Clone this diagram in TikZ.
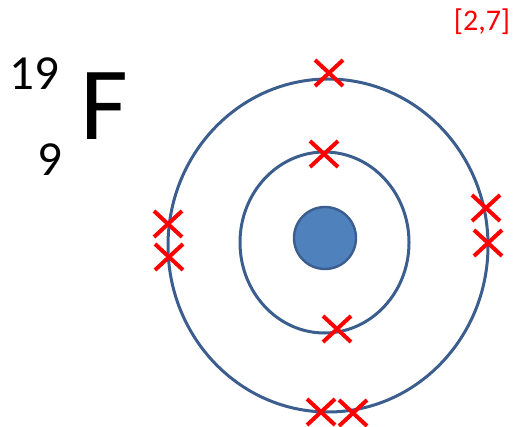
\documentclass[tikz,border=0pt]{standalone}
\usepackage{fontspec}
\setmainfont{Carlito}
\usetikzlibrary{shapes.geometric,shapes.misc}
\definecolor{shellblue}{HTML}{3B5E8E}
\definecolor{nucfill}{HTML}{4F81BD}
\begin{document}
\begin{tikzpicture}[
x=1pt, y=-1pt,
shell/.style={ellipse, draw=shellblue, line width=3pt, inner sep=0pt},
nucleus/.style={circle, draw=shellblue, fill=nucfill, line width=2.4pt, minimum size=62pt, inner sep=0pt},
electron/.style={cross out, draw=red, line width=4pt, minimum width=24pt, minimum height=22pt, inner sep=0pt},
every node/.style={inner sep=0pt}
]
\useasboundingbox (0,0) rectangle (516,427);
% symbol
\node (mass) at (34,74) {\fontsize{49}{49}\selectfont 19};
\node (atomic) at (49.5,160) {\fontsize{49}{49}\selectfont 9};
\node (symbol) at (104,106.5) {\fontsize{104}{104}\selectfont F};
\node[text=red] (config) at (482,22) {\fontsize{30}{30}\selectfont [2,7]};
% atom
\node[shell, minimum width=320pt, minimum height=333pt] (outer) at (328,245.5) {};
\node[shell, minimum width=169pt, minimum height=181pt] (inner) at (324.5,242.5) {};
\node[nucleus] (nuc) at (325,238) {};
% electrons
\foreach \name/\px/\py in {e1/324/154, e2/337/329,
  e3/329/73, e4/168/224, e5/169/257, e6/486/208, e7/488/243, e8/321/412, e9/353/413}
  \node[electron] (\name) at (\px,\py) {};
\end{tikzpicture}
\end{document}
